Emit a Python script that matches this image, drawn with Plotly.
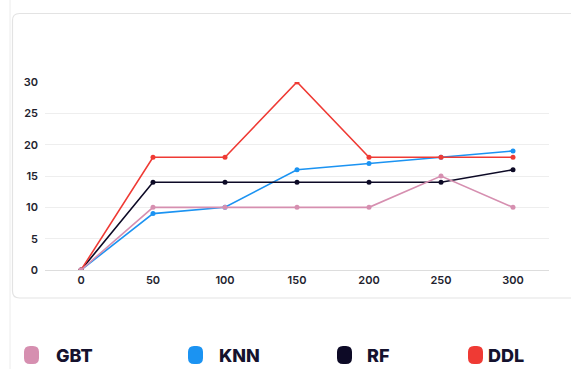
import plotly.graph_objects as go

# Data
x_vals = [0, 50, 100, 150, 200, 250, 300]
series_names = ["GBT", "KNN", "RF", "DDL"]
gbt = [0, 10, 10, 10, 10, 15, 10]
knn = [0, 9, 10, 16, 17, 18, 19]
rf = [0, 14, 14, 14, 14, 14, 16]
ddl = [0, 18, 18, 30, 18, 18, 18]
colors = ["#d68fb0", "#1b93f2", "#0d0a26", "#ef3a34"]
y_ticks = [0, 5, 10, 15, 20, 25, 30]

W, H = 571, 369
ML, MR, MT, MB = 45, 22, 82, 99
PW, PH = W - ML - MR, H - MT - MB


def fx(p):
    return (p - ML) / PW


def fy(p):
    return (H - MB - p) / PH


def rounded_rect(x0, y0, x1, y1, r):
    # rounded rectangle path in paper coordinates from pixel corners
    a, b, c, d = fx(x0), fx(x1), fy(y0), fy(y1)
    rx, ry = r / PW, r / PH
    return (f"M {a+rx},{c} L {b-rx},{c} Q {b},{c} {b},{c-ry} "
            f"L {b},{d+ry} Q {b},{d} {b-rx},{d} L {a+rx},{d} "
            f"Q {a},{d} {a},{d+ry} L {a},{c-ry} Q {a},{c} {a+rx},{c} Z")


series = dict(zip(series_names, zip([gbt, knn, rf, ddl], colors)))

fig = go.Figure()
# draw order: GBT ends up on top
for name in ["KNN", "RF", "DDL", "GBT"]:
    ys, col = series[name]
    fig.add_trace(go.Scatter(
        x=x_vals, y=ys, name=name, mode="lines+markers",
        line=dict(color=col, width=1.6),
        marker=dict(color=col, size=5),
        showlegend=False,
    ))

shapes = [
    # outer container edge
    dict(type="line", xref="paper", yref="paper",
         x0=fx(10), x1=fx(10), y0=fy(0), y1=fy(H),
         line=dict(color="#ececec", width=1)),
    # card
    dict(type="path", xref="paper", yref="paper",
         path=rounded_rect(12.5, 13.5, 580, 298, 7),
         line=dict(color="#e3e3e3", width=1.2), fillcolor="rgba(0,0,0,0)"),
]

annotations = []
legend_pos = [(24, 54), (188, 217), (337, 365), (468, 486)]
for (mx, tx), name, col in zip(legend_pos, series_names, colors):
    shapes.append(dict(type="path", xref="paper", yref="paper",
                       path=rounded_rect(mx, 346, mx + 15, 364, 6),
                       line=dict(width=0), fillcolor=col))
    annotations.append(dict(xref="paper", yref="paper", x=fx(tx), y=fy(355),
                            xanchor="left", yanchor="middle", showarrow=False,
                            text=name,
                            font=dict(family="Inter", size=18, color="#15122e",
                                      weight=800)))

tick_font = dict(family="Inter", size=11, color="#22222e", weight=600)

fig.update_layout(
    width=W, height=H,
    margin=dict(l=ML, r=MR, t=MT, b=MB),
    paper_bgcolor="white", plot_bgcolor="white",
    shapes=shapes, annotations=annotations,
    xaxis=dict(range=[-25, 325], tickvals=x_vals, showgrid=False,
               zeroline=False, showline=True, linecolor="#dddddd", linewidth=1,
               ticks="", fixedrange=True, tickfont=tick_font),
    yaxis=dict(range=[0, 30], tickvals=y_ticks, showgrid=True,
               gridcolor="#eeeeee", gridwidth=1, zeroline=False, ticks="",
               ticklabelstandoff=6, fixedrange=True, tickfont=tick_font),
)
fig.write_html("out.html")
